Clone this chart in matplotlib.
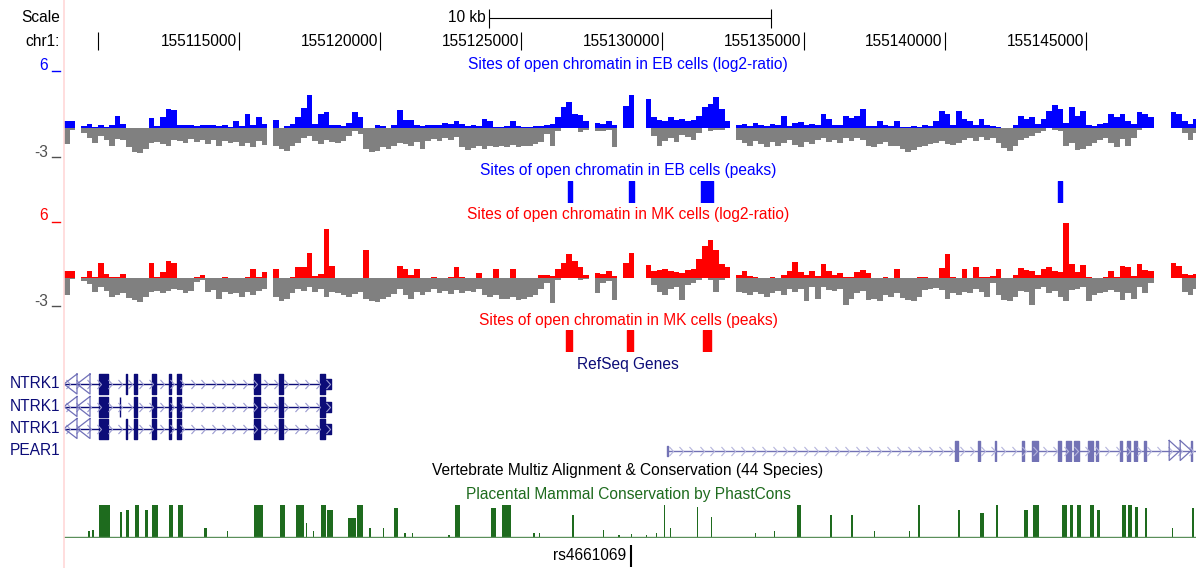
import numpy as np
import matplotlib
matplotlib.use('Agg')
import matplotlib.pyplot as plt
from matplotlib.path import Path
from matplotlib.lines import Line2D

nan = np.nan

# browser window, chr1 (hg18)
win_start = 155108800
win_end = 155148900
bin_size = 200   # bp per wiggle bin

ruler_ticks = [155110000, 155115000, 155120000, 155125000,
               155130000, 155135000, 155140000, 155145000]
ruler_labels = ['', '155115000', '155120000', '155125000',
                '155130000', '155135000', '155140000', '155145000']

# EB cells log2-ratio, per 200 bp bin: max (hi) and min (lo)
eb_hi = [0.8, 0.8, nan, 0.2, 0.5, 0.1, 0.3, 0.1, 0.3, 1.3,
         0.5, 0, 0, 0, 0, 1.1, 0.2, 1.2, 2.0, 1.9,
         0.4, 0.3, 0.3, 0.2, 0.3, 0.3, 0.4, 0.2, 0.3, 0.1,
         0.8, 0.2, 1.5, 0.3, 1.2, 0.5, nan, 0.9, 0, 0.2,
         0.5, 1.2, 2.1, 3.5, 0.5, 1.5, 1.7, 0.3, 0.3, 0.2,
         0.6, 1.7, 1.2, 0, 0, 0.4, 0.2, 0, 0.3, 1.9,
         0.9, 0.9, 0.3, 0.2, 0.3, 0.4, 0.3, 0.6, 0.5, 0.8,
         0.5, 0.2, 0.3, 0.2, 1.0, 0.8, 0.1, 0.1, 0.2, 0.8,
         0.2, 0.1, 0.1, 0.2, 0.2, 0.4, 0.5, 1.2, 2.2, 2.8,
         1.5, 1.4, 0.8, nan, 0.6, 0.5, 0.8, 0.3, nan, 2.3,
         3.5, nan, nan, 3.1, 1.2, 0.9, 0.8, 1.2, 0.9, 1.0,
         0.8, 0.9, 1.3, 2.2, 2.5, 3.3, 2.0, 0.8, nan, 0.3,
         0.5, 0.2, 0.6, 0.3, 0.2, 0.5, 0.3, 1.3, 0.2, 0.6,
         0.7, 0.3, 0.5, 0.3, 1.5, 1.0, 0.4, 0.3, 1.3, 1.1,
         1.3, 2.0, 0.2, 0.2, 0.8, 0.4, 0.2, 0.8, 0.1, 0.1,
         0.2, 0.1, 0.3, 0.2, 0.8, 1.8, 1.5, 0.3, 1.8, 1.0,
         0.8, 0.3, 1.0, 0.3, 0.2, 0.1, 0, 0, 0.3, 1.3,
         1.0, 1.2, 0.5, 1.0, 1.8, 2.4, 2.0, 0.6, 2.2, 1.3,
         1.8, 0.3, 0.2, 0.5, 0.6, 1.5, 1.2, 1.5, 0.8, 0.5,
         1.7, 1.5, 1.2, nan, nan, nan, 1.7, 1.5, 0.8, 0.5, 1.0]
eb_lo = [-1.6, -0.2, nan, -0.5, -1.0, -1.5, -0.8, -1.2, -1.8, -1.1,
         -1.2, -2.0, -2.5, -2.6, -2.2, -1.5, -1.4, -1.6, -1.8, -1.2,
         -1.3, -1.5, -1.1, -1.4, -1.2, -1.6, -1.2, -1.8, -1.3, -1.5,
         -1.4, -1.8, -1.5, -2.0, -1.3, -1.7, nan, -1.8, -2.2, -2.4,
         -1.9, -1.5, -1.0, -0.8, -1.3, -1.6, -1.2, -1.4, -1.5, -1.3,
         -0.8, -0.3, -0.6, -2.2, -2.5, -2.4, -2.0, -2.2, -1.8, -1.5,
         -1.6, -1.8, -1.4, -2.2, -1.3, -1.1, -1.3, -1.0, -1.2, -0.9,
         -2.0, -2.3, -2.1, -1.9, -2.2, -1.8, -2.0, -1.9, -2.0, -1.7,
         -2.0, -1.9, -1.8, -1.6, -1.4, -0.6, -1.8, -0.3, 0, 0,
         0, -0.4, -0.2, nan, -0.3, -0.3, -0.2, -2.0, nan, 0,
         0, nan, nan, 0, -0.8, -1.8, -1.3, -1.0, -1.4, -0.7,
         -0.9, -1.2, -0.5, 0, -0.3, -0.2, -0.2, 0, nan, -1.2,
         -1.5, -1.8, -1.3, -1.6, -2.0, -1.4, -1.8, -1.5, -1.2, -1.7,
         -2.0, -1.4, -1.6, -1.2, -1.0, -1.4, -1.2, -1.5, -1.0, -1.3,
         -1.0, -1.2, -1.8, -2.0, -1.6, -1.4, -1.9, -1.8, -2.2, -2.5,
         -2.3, -2.0, -1.8, -1.6, -1.5, -1.3, -1.6, -1.7, -1.5, -1.2,
         -1.0, -1.3, -0.9, -1.2, -1.0, -1.5, -2.1, -2.4, -1.9, -1.2,
         -1.0, -0.8, -0.5, -0.3, 0, -0.2, -0.3, -1.8, -1.5, -2.3,
         -2.2, -1.8, -1.5, -1.2, -1.0, -1.5, -2.0, -1.1, -1.8, -1.0,
         -0.2, 0, 0, nan, nan, nan, 0, 0, -0.5, -1.2, -0.5]

# MK cells log2-ratio
mk_hi = [0.7, 0.7, nan, 0.1, 0.8, 0.1, 1.6, 0.4, 0.1, 0.1,
         0.4, 0, 0, 0, 0, 1.6, 0.1, 0.6, 1.8, 1.6,
         0, 0, 0, 0.1, 0.3, 0, 0, 0, 0.1, 0,
         0, 0, 0.1, 1.0, 0.1, 0.6, nan, 1.0, 0, 0,
         0.1, 1.2, 1.2, 2.7, 0.2, 0.4, 5.3, 1.3, 0, 0,
         0, 0, 0, 3.0, 0, 0, 0, 0, 0, 1.3,
         1.0, 0.3, 1.0, 0, 0, 0.1, 0, 0, 0.1, 1.2,
         0.1, 0, 0, 0.5, 0, 0, 1.0, 0, 0, 1.0,
         0, 0, 0, 0, 0.3, 0.3, 0.2, 1.0, 1.6, 2.6,
         1.8, 1.2, 0.3, nan, 0.5, 0.4, 0.8, 0.2, nan, 1.6,
         2.7, nan, nan, 1.4, 0.8, 0.9, 1.0, 0.7, 0.6, 0.5,
         0.9, 1.0, 2.0, 3.4, 4.1, 3.0, 1.5, 1.2, nan, 0.3,
         0.8, 0.2, 0.1, 0, 0, 0.1, 0, 0.3, 0.8, 1.7,
         0.6, 0.3, 0.8, 0.2, 1.5, 0.8, 0.3, 0.5, 0.1, 0.1,
         0.6, 0.9, 0.5, 0, 0, 0.1, 0, 1.0, 0, 0,
         0, 0.1, 0.1, 0, 0, 1.1, 2.6, 0.1, 0, 1.0,
         0, 1.2, 0.1, 0.1, 0.2, 1.0, 0, 0, 0.3, 1.1,
         0.9, 0.8, 0.3, 1.0, 1.2, 0.8, 0.6, 5.9, 1.5, 0.6,
         1.4, 0.1, 0, 0, 0.1, 0.7, 0.1, 1.3, 1.2, 0.2,
         1.5, 0.9, 0.7, nan, nan, nan, 1.6, 1.3, 0.4, 0.3, 0.4]
mk_lo = [-1.8, -0.1, nan, -0.3, -0.6, -1.5, -1.0, -1.4, -2.0, -1.8,
         -1.6, -2.1, -2.4, -2.6, -2.0, -1.5, -1.4, -1.6, -1.4, -1.2,
         -1.3, -1.6, -1.4, -0.4, -0.2, -1.5, -1.3, -2.3, -1.5, -1.7,
         -1.6, -2.0, -1.5, -1.8, -1.4, -1.2, nan, -2.0, -2.5, -2.2,
         -1.6, -1.2, -1.4, -1.0, -1.5, -1.2, -2.0, -1.5, -1.6, -1.8,
         -2.0, -1.7, -1.5, -2.2, -2.5, -2.6, -2.3, -2.0, -1.7, -1.2,
         -1.8, -2.2, -1.5, -1.8, -1.5, -1.2, -1.6, -1.4, -1.7, -1.3,
         -1.6, -1.4, -1.5, -1.2, -1.8, -2.0, -1.8, -2.2, -2.3, -2.0,
         -2.4, -2.2, -2.0, -1.8, -1.2, -0.5, -2.7, -0.2, 0, 0,
         0, -0.2, -0.1, nan, -1.6, -0.5, -0.3, -2.4, nan, 0,
         0, nan, nan, 0, -0.8, -1.5, -1.8, -1.2, -1.0, -2.4,
         -0.8, -0.5, -0.2, 0, -0.2, -1.5, -0.2, 0, nan, -1.5,
         -1.6, -1.8, -1.5, -1.7, -2.0, -1.6, -1.4, -1.8, -1.2, -1.5,
         -1.2, -2.5, -1.0, -2.2, -1.0, -1.3, -1.4, -1.2, -2.9, -2.2,
         -1.6, -1.4, -2.4, -2.3, -2.5, -1.8, -2.0, -1.6, -2.1, -2.4,
         -2.5, -2.0, -1.3, -1.2, -1.1, -1.3, -2.2, -1.6, -1.8, -1.5,
         -1.6, -1.2, -1.5, -2.0, -0.5, -1.8, -2.4, -2.5, -2.0, -1.4,
         -1.5, -2.9, -1.2, -1.0, -1.6, -1.4, -2.0, -2.5, -1.3, -1.2,
         -1.0, -2.5, -1.8, -1.6, -1.5, -1.3, -1.5, -2.4, -1.6, -2.2,
         -1.0, -1.6, -0.5, nan, nan, nan, 0, 0, -1.5, -1.8, -1.2]

# peak calls (start, end)
eb_peaks = [(155126640, 155126810), (155128800, 155128980),
            (155131350, 155131780), (155144010, 155144150)]
mk_peaks = [(155126600, 155126780), (155128760, 155128940),
            (155131420, 155131710)]

# RefSeq genes
ntrk1_start, ntrk1_end = 155108800, 155118270
ntrk1_exons = [(155110040, 155110360), (155110980, 155111030), (155111280, 155111390),
               (155111920, 155112060), (155112510, 155112590), (155112810, 155112950),
               (155115540, 155115750), (155116420, 155116570), (155117880, 155118055)]
ntrk1_alt_exons = [(155110040, 155110360), (155110770, 155110800), (155111280, 155111390),
                   (155111920, 155112060), (155112510, 155112590), (155112810, 155112950),
                   (155115540, 155115750), (155116420, 155116570), (155117880, 155118055)]
ntrk1_utr = (155118055, 155118270)
pear1_start, pear1_end = 155130150, 155148900
pear1_utr = (155130150, 155130190)
pear1_exons = [(155140360, 155140470), (155141180, 155141250), (155141780, 155141830),
               (155142740, 155142810), (155143090, 155143300), (155144010, 155144120),
               (155144300, 155144470), (155144580, 155144760), (155145080, 155145250),
               (155145360, 155145430), (155146210, 155146280), (155146460, 155146570),
               (155146710, 155146810), (155147060, 155147130), (155148730, 155148770)]

# PhastCons elements (start, end, score)
cons_start = [155109650, 155109790, 155110040, 155110800, 155111000, 155111320, 155111670,
              155111920, 155112520, 155112840, 155113760, 155114580, 155115540, 155116460,
              155117030, 155117380, 155117630, 155117910, 155118130, 155118870, 155119190,
              155119620, 155120110, 155120500, 155120860, 155121140, 155122420, 155122660,
              155123910, 155124330, 155125430, 155125610, 155126810, 155127880, 155128440,
              155128870, 155129400, 155129760, 155130040, 155130250, 155131210, 155131710,
              155133270, 155133940, 155134760, 155135930, 155136670, 155137490, 155138730,
              155139050, 155140470, 155141250, 155141810, 155142810, 155143130, 155144150,
              155144440, 155144690, 155145150, 155145400, 155146280, 155146490, 155146740,
              155147100, 155148050, 155148760]
cons_end = [155109720, 155109860, 155110430, 155110860, 155111100, 155111460, 155111780,
            155112130, 155112670, 155113020, 155113870, 155114620, 155115860, 155116640,
            155117310, 155117420, 155117670, 155118090, 155118340, 155119150, 155119400,
            155119660, 155120150, 155120640, 155120900, 155121180, 155122460, 155122840,
            155124120, 155124620, 155125470, 155125650, 155126860, 155127920, 155128480,
            155128910, 155129440, 155129800, 155130100, 155130290, 155131260, 155131750,
            155133310, 155133980, 155134900, 155136000, 155136740, 155137530, 155138770,
            155139120, 155140540, 155141390, 155141880, 155142950, 155143340, 155144330,
            155144540, 155144830, 155145290, 155145500, 155146420, 155146640, 155146850,
            155147170, 155148090, 155148830]
cons_score = [0.2, 0.25, 1.0, 0.8, 0.85, 1.0, 0.85,
              1.0, 1.0, 1.0, 0.3, 0.2, 1.0, 1.0,
              1.0, 0.45, 0.2, 1.0, 0.85, 0.6, 1.0,
              0.3, 0.3, 0.9, 0.15, 0.15, 0.1, 1.0,
              0.9, 1.0, 0.15, 0.15, 0.7, 0.25, 0.1,
              0.12, 0.1, 0.15, 1.0, 0.3, 0.95, 0.65,
              0.15, 0.2, 1.0, 0.7, 0.7, 0.2, 0.2,
              1.0, 0.85, 0.75, 1.0, 0.85, 1.0, 1.0,
              1.0, 1.0, 1.0, 0.85, 1.0, 1.0, 0.95,
              0.9, 0.3, 0.9]

snp_name = 'rs4661069'
snp_pos = 155128870

# ---------------------------------------------------------------
W, H = 1200, 568
plt.rcParams['font.family'] = ['Liberation Sans', 'DejaVu Sans']
FS = 11.2
fig = plt.figure(figsize=(W / 100, H / 100), dpi=100)
bp_px = (win_end - win_start) / (1196 - 64)

NAVY = '#0c0c78'
GREEN = '#1e6b1e'


def fy(y):
    return 1 - y / H


def track(y_top, y_bot):
    ax = fig.add_axes([64 / W, fy(y_bot), (1196 - 64) / W, (y_bot - y_top) / H])
    ax.set_xlim(win_start, win_end)
    ax.axis('off')
    return ax


def label(x, y, s, color='black', ha='center'):
    fig.text(x / W, fy(y), s, ha=ha, va='center', color=color, fontsize=FS)


fig.add_artist(Line2D([63.5 / W, 63.5 / W], [0, 1], color='#ffd8d8', lw=1.2))

# ruler
ax = track(4, 52)
ax.set_ylim(52, 4)
label(60, 18, 'Scale', ha='right')
label(60, 41, 'chr1:', ha='right')
mid = (win_start + win_end) / 2
ax.hlines(18, mid - 5000, mid + 5000, color='black', lw=0.8)
ax.vlines([mid - 5000, mid + 5000], 9, 28, color='black', lw=0.8)
ax.annotate('10 kb', (mid - 5000, 18), xytext=(-2, 0), textcoords='offset points',
            ha='right', va='center', fontsize=FS)
ax.vlines(ruler_ticks, 32, 50, color='black', lw=0.8)
for t, s in zip(ruler_ticks, ruler_labels):
    ax.annotate(s, (t, 41), xytext=(-1.5, 0), textcoords='offset points',
                ha='right', va='center', fontsize=FS)


def wiggle(y_top, y_bot, hi, lo, color):
    ax = track(y_top, y_bot)
    ax.set_ylim(-3, 6)
    x = win_start + bin_size * np.arange(len(hi))
    ax.bar(x, hi, width=bin_size, align='edge', color=color, linewidth=0)
    ax.bar(x, lo, width=bin_size, align='edge', color='#808080', linewidth=0)
    return ax


def scale_marks(y6, ym3, color):
    label(48, y6 - 6, '6', color=color, ha='right')
    label(48, ym3 - 4, '-3', color='#505050', ha='right')
    fig.add_artist(Line2D([52 / W, 60 / W], [fy(y6), fy(y6)], color=color, lw=1))
    fig.add_artist(Line2D([52 / W, 60 / W], [fy(ym3), fy(ym3)], color='#505050', lw=1))


# EB
label(628, 65, 'Sites of open chromatin in EB cells (log2-ratio)', color='#0000ff')
wiggle(71, 157, eb_hi, eb_lo, '#0000ff')
scale_marks(71, 157, '#0000ff')
label(628, 171, 'Sites of open chromatin in EB cells (peaks)', color='#0000ff')
ax = track(181, 203)
ax.set_ylim(0, 1)
ax.broken_barh([(s, e - s) for s, e in eb_peaks], (0, 1), color='#0000ff')

# MK
label(628, 214, 'Sites of open chromatin in MK cells (log2-ratio)', color='#ff0000')
wiggle(222, 306, mk_hi, mk_lo, '#ff0000')
scale_marks(222, 306, '#ff0000')
label(628, 321, 'Sites of open chromatin in MK cells (peaks)', color='#ff0000')
ax = track(330, 352)
ax.set_ylim(0, 1)
ax.broken_barh([(s, e - s) for s, e in mk_peaks], (0, 1), color='#ff0000')

# genes
label(628, 364, 'RefSeq Genes', color=NAVY)
ax = track(372, 462)
ax.set_ylim(462, 372)
chev = Path([(-0.45, 1), (0.45, 0), (-0.45, -1)], [Path.MOVETO, Path.LINETO, Path.LINETO])


def gene(ax, y, start, end, exons, utr, color, chev_color):
    ax.hlines(y, start, end, color=color, lw=1)
    xs = np.arange(start + 4 * bp_px, end, 10.4 * bp_px)
    ax.plot(xs, [y] * len(xs), ls='none', marker=chev, ms=6.5, mfc='none',
            mec=chev_color, mew=0.8)
    ax.broken_barh([(s, e - s) for s, e in exons], (y - 10, 20), color=color)
    ax.broken_barh([(utr[0], utr[1] - utr[0])], (y - 5, 10), color=color)


for y, ex in zip([384, 406.5, 428.5], [ntrk1_exons, ntrk1_alt_exons, ntrk1_exons]):
    gene(ax, y, ntrk1_start, ntrk1_end, ex, ntrk1_utr, NAVY, '#9a9ad0')
    for k in range(2):
        tip = win_start + k * 13 * bp_px
        base = tip + 13 * bp_px
        ax.plot([base, tip, base, base], [y - 10, y, y + 10, y - 10], color='#7070b8', lw=0.9)
    label(60, y, 'NTRK1', color=NAVY, ha='right')

PEAR = '#7272b5'
gene(ax, 450.5, pear1_start, pear1_end, pear1_exons, pear1_utr, PEAR, '#b4b4dc')
for k in range(2):
    tip = pear1_exons[-1][0] - k * 11 * bp_px
    base = tip - 11 * bp_px
    ax.plot([base, tip, base, base], [440.5, 450.5, 460.5, 440.5], color=PEAR, lw=0.9)
label(60, 450.5, 'PEAR1', color=NAVY, ha='right')

# conservation
label(628, 471, 'Vertebrate Multiz Alignment & Conservation (44 Species)')
label(628, 494, 'Placental Mammal Conservation by PhastCons', color=GREEN)
ax = track(505, 538)
ax.set_ylim(0, 1)
cs = np.array(cons_start)
ce = np.array(cons_end)
ax.bar(cs, cons_score, width=ce - cs, align='edge', color=GREEN, linewidth=0)
ax.axhline(0.02, color='#5a8f5a', lw=1)

# SNP
ax = track(544, 568)
ax.set_ylim(0, 1)
ax.vlines(snp_pos, 0.05, 0.95, color='black', lw=1.5)
ax.annotate(snp_name, (snp_pos, 0.5), xytext=(-3, 0), textcoords='offset points',
            ha='right', va='center', fontsize=FS)

fig.savefig('out.png', dpi=100)
